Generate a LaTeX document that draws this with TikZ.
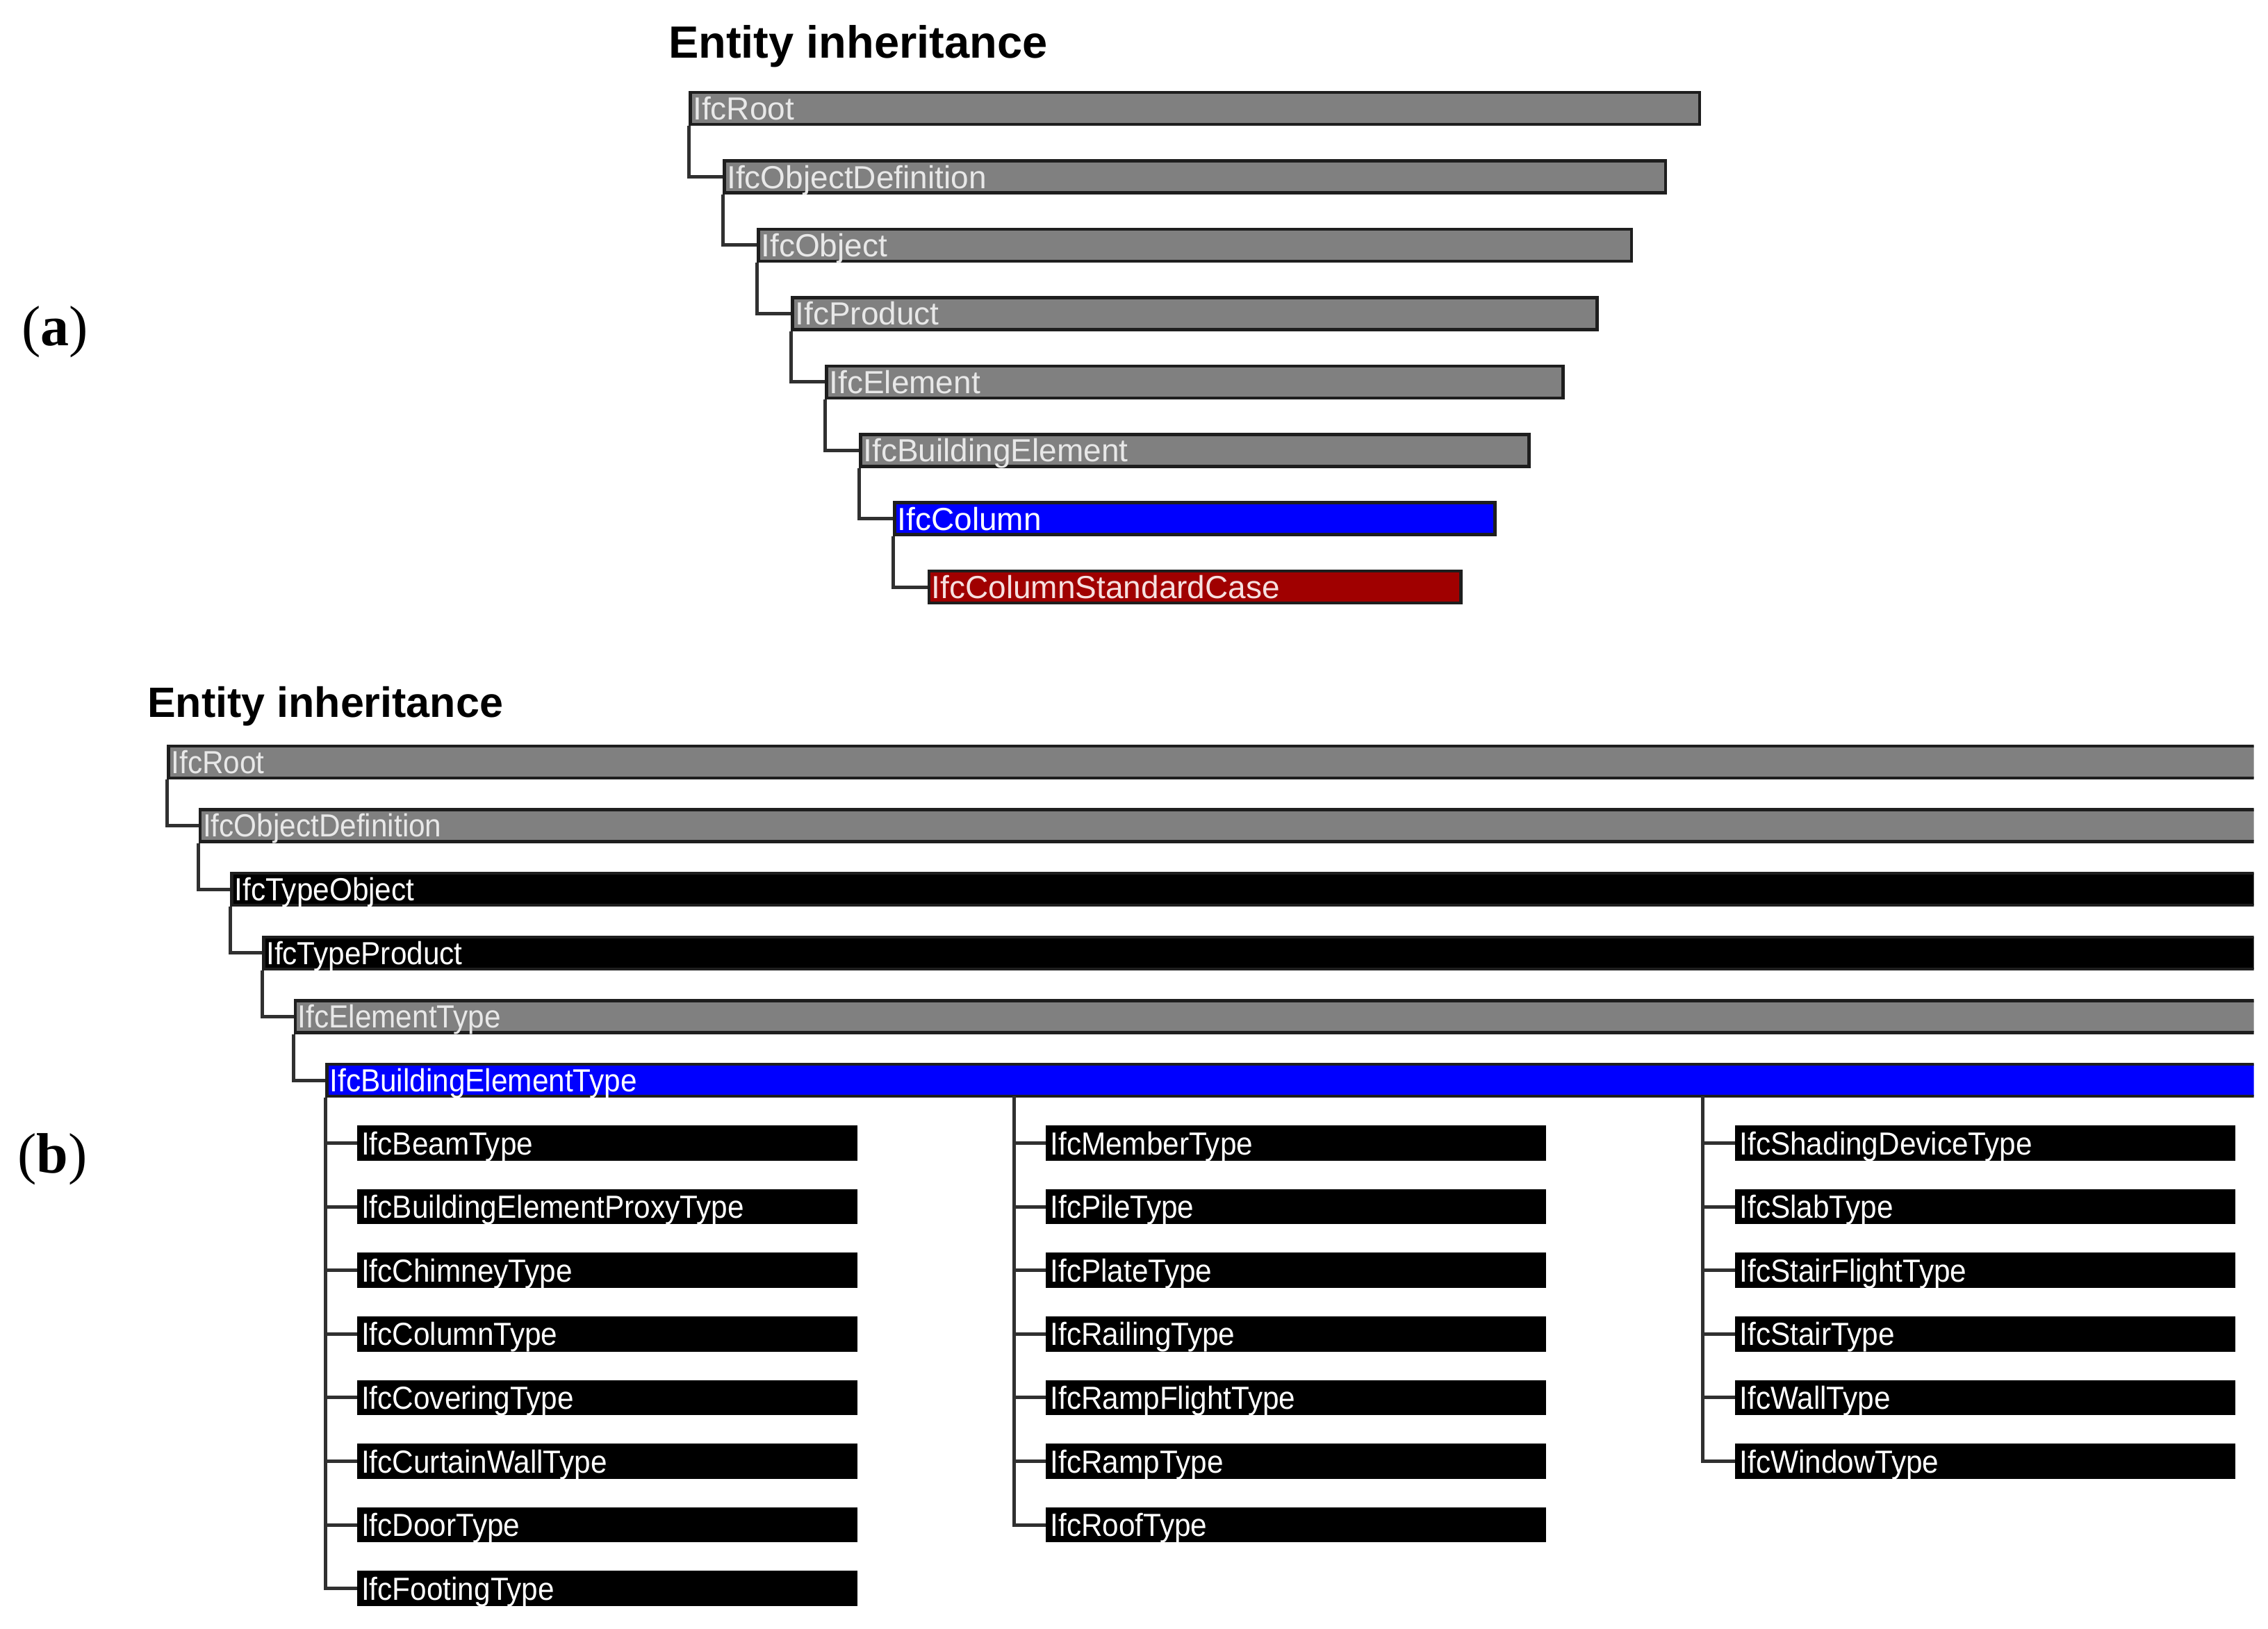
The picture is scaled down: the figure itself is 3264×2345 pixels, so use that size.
\documentclass[tikz,border=0pt]{standalone}
\usepackage{fontspec}
\setmainfont{Liberation Sans}
\newfontfamily\barfontA{Liberation Sans}
\newfontfamily\barfontB{Liberation Sans}[FakeStretch=0.92]
\newfontfamily\labfont{Liberation Serif}
\definecolor{barGray}{HTML}{808080}
\definecolor{txtGray}{HTML}{E8E8E8}
\definecolor{barBlue}{HTML}{0000FF}
\definecolor{barRed}{HTML}{A00000}
\definecolor{txtRed}{HTML}{F6E0E0}
\definecolor{barline}{HTML}{1E1E1E}
\definecolor{connColor}{HTML}{303030}
\begin{document}
\begin{tikzpicture}[x=1pt,y=-1pt,
  bar/.style={rectangle, draw=barline, line width=4.5pt, anchor=west,
    minimum height=46pt, inner xsep=4pt, inner ysep=0pt,
    text height=33pt, text depth=0pt, align=left},
  abar/.style={bar, font=\barfontA\fontsize{46}{50}\selectfont},
  bbar/.style={bar, font=\barfontB\fontsize{46}{50}\selectfont},
  conn/.style={draw=connColor, line width=5pt},
  titletext/.style={anchor=base west, inner sep=0pt},
  partlabel/.style={anchor=base west, inner sep=0pt, font=\labfont\fontsize{82}{90}\selectfont}
]
\useasboundingbox (0,0) rectangle (3264,2345);
\fill[white] (0,0) rectangle (3264,2345);

% ---------- part labels ----------
\node[partlabel] (labA) at (31,497) {(\textbf{a})};
\node[partlabel] (labB) at (25,1688) {(\textbf{b})};

% ---------- (a) ----------
\node[titletext, font=\bfseries\fontsize{65}{70}\selectfont] (titleA) at (962,83) {Entity inheritance};

\foreach \i/\nm/\txt/\fc/\tc in {
  0/aRoot/IfcRoot/barGray/txtGray,
  1/aObjDef/IfcObjectDefinition/barGray/txtGray,
  2/aObj/IfcObject/barGray/txtGray,
  3/aProd/IfcProduct/barGray/txtGray,
  4/aElem/IfcElement/barGray/txtGray,
  5/aBldElem/IfcBuildingElement/barGray/txtGray,
  6/aCol/IfcColumn/barBlue/white,
  7/aColStd/IfcColumnStandardCase/barRed/txtRed}{
  \pgfmathsetmacro\L{988.8+49.07*\i+2.25}
  \pgfmathsetmacro\Y{156.1+98.43*\i}
  \pgfmathsetmacro\TW{1457.1-98.14*\i-4.5-8}
  \node[abar, fill=\fc, text=\tc, text width=\TW pt] (\nm) at (\L,\Y) {\txt};
}
\foreach \p/\c in {aRoot/aObjDef, aObjDef/aObj, aObj/aProd, aProd/aElem,
                   aElem/aBldElem, aBldElem/aCol, aCol/aColStd}{
  \draw[conn] (\p.south west) |- (\c.west);
}

% ---------- (b) ----------
\node[titletext, font=\bfseries\fontsize{61}{66}\selectfont] (titleB) at (212,1032) {Entity inheritance};

\begin{scope}
\clip (0,0) rectangle (3243.5,2345);
\foreach \j/\nm/\txt/\fc/\tc in {
  0/bRoot/IfcRoot/barGray/txtGray,
  1/bObjDef/IfcObjectDefinition/barGray/txtGray,
  2/bTypeObj/IfcTypeObject/black/white,
  3/bTypeProd/IfcTypeProduct/black/white,
  4/bElemType/IfcElementType/barGray/txtGray,
  5/bBET/IfcBuildingElementType/barBlue/white}{
  \pgfmathsetmacro\L{238+45.6*\j+2.25}
  \pgfmathsetmacro\Y{1096.8+91.65*\j}
  \pgfmathsetmacro\TW{3300-\L-8}
  \node[bbar, fill=\fc, text=\tc, text width=\TW pt] (\nm) at (\L,\Y) {\txt};
}
\end{scope}
\foreach \p/\c in {bRoot/bObjDef, bObjDef/bTypeObj, bTypeObj/bTypeProd,
                   bTypeProd/bElemType, bElemType/bBET}{
  \draw[conn] (\p.south west) |- (\c.west);
}

\coordinate (hubB) at (1459,1578);
\coordinate (hubC) at (2450.7,1578);

% column 1
\foreach \k/\nm/\txt in {0/cBeam/IfcBeamType, 1/cProxy/IfcBuildingElementProxyType,
  2/cChimney/IfcChimneyType, 3/cColumn/IfcColumnType, 4/cCovering/IfcCoveringType,
  5/cCurtain/IfcCurtainWallType, 6/cDoor/IfcDoorType, 7/cFooting/IfcFootingType}{
  \pgfmathsetmacro\Y{1645.5+91.6*\k}
  \node[bbar, fill=black, draw=black, text=white, text width=707.5pt] (\nm) at (513.95,\Y) {\txt};
  \draw[conn] (bBET.south west) |- (\nm.west);
}
% column 2
\foreach \k/\nm/\txt in {0/cMember/IfcMemberType, 1/cPile/IfcPileType,
  2/cPlate/IfcPlateType, 3/cRailing/IfcRailingType, 4/cRampFlight/IfcRampFlightType,
  5/cRamp/IfcRampType, 6/cRoof/IfcRoofType}{
  \pgfmathsetmacro\Y{1645.5+91.6*\k}
  \node[bbar, fill=black, draw=black, text=white, text width=707.5pt] (\nm) at (1505.25,\Y) {\txt};
  \draw[conn] (hubB) |- (\nm.west);
}
% column 3
\foreach \k/\nm/\txt in {0/cShading/IfcShadingDeviceType, 1/cSlab/IfcSlabType,
  2/cStairFlight/IfcStairFlightType, 3/cStair/IfcStairType, 4/cWall/IfcWallType,
  5/cWindow/IfcWindowType}{
  \pgfmathsetmacro\Y{1645.5+91.6*\k}
  \node[bbar, fill=black, draw=black, text=white, text width=707.5pt] (\nm) at (2497.25,\Y) {\txt};
  \draw[conn] (hubC) |- (\nm.west);
}
\end{tikzpicture}
\end{document}
